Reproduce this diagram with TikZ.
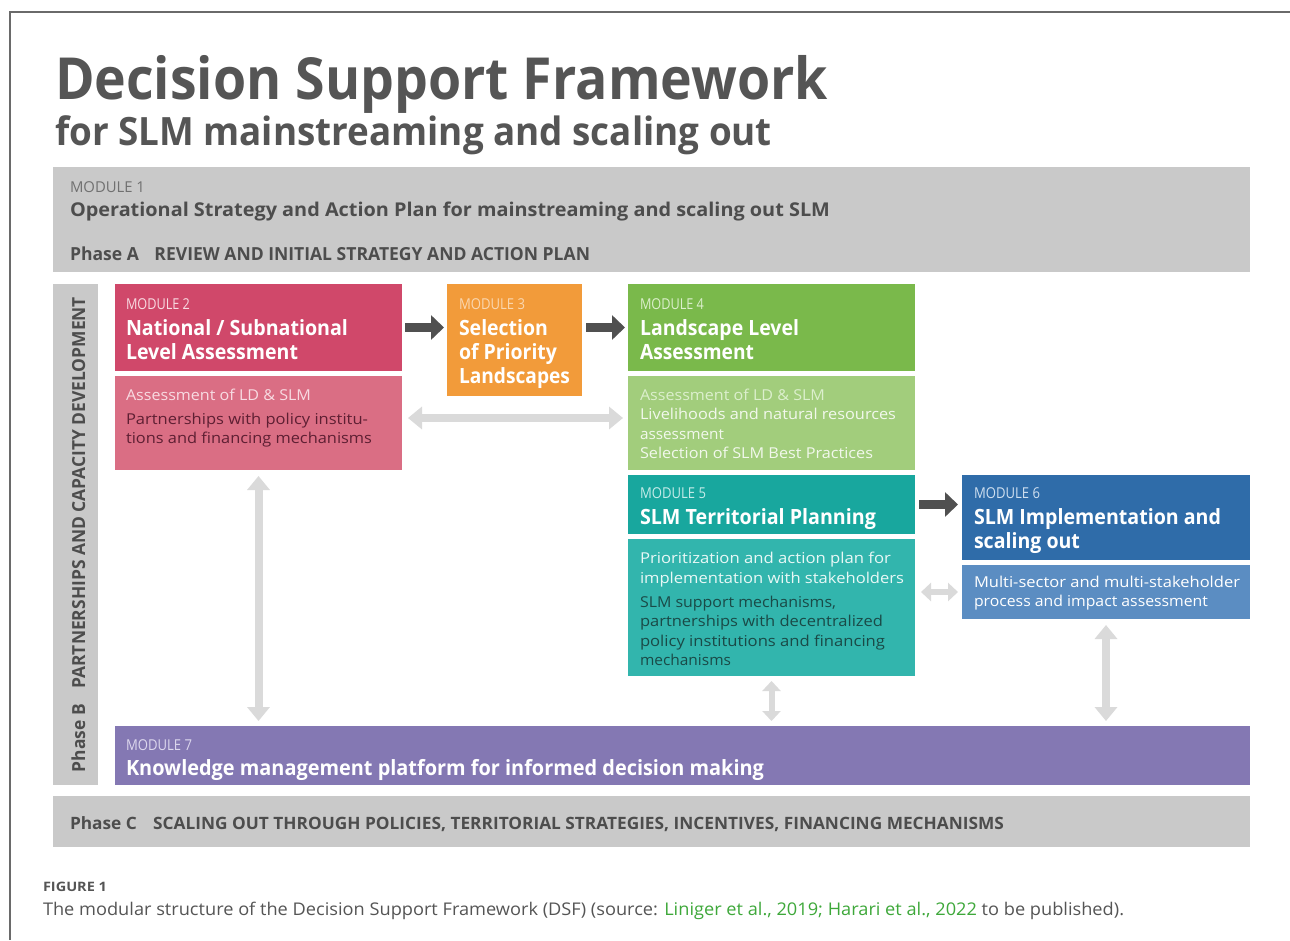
\documentclass[tikz,border=0pt]{standalone}
\usepackage{fontspec}
\setmainfont{Open Sans}
\usepackage{graphicx}
\usetikzlibrary{arrows.meta}
\definecolor{frame}{HTML}{6A6A6A}
\definecolor{gbox}{HTML}{C9C9C9}
\definecolor{gtext}{HTML}{4D4D4D}
\definecolor{glab}{HTML}{707070}
\definecolor{mTwoA}{HTML}{D0486A}
\definecolor{mTwoB}{HTML}{DA6E84}
\definecolor{mTwoL}{HTML}{F8DBE2}
\definecolor{mTwoD}{HTML}{5E1F33}
\definecolor{mThree}{HTML}{F29B3A}
\definecolor{mThreeL}{HTML}{FAD7B0}
\definecolor{mFourA}{HTML}{7AB94B}
\definecolor{mFourB}{HTML}{A2CD7C}
\definecolor{mFourL}{HTML}{DCEFCD}
\definecolor{mFourT}{HTML}{F2F8EC}
\definecolor{mFiveA}{HTML}{18A79E}
\definecolor{mFiveB}{HTML}{32B5AD}
\definecolor{mFiveL}{HTML}{C6ECE9}
\definecolor{mFiveT}{HTML}{E8F8F6}
\definecolor{mFiveD}{HTML}{1A4A47}
\definecolor{mSixA}{HTML}{2F6CA9}
\definecolor{mSixB}{HTML}{5B8DC2}
\definecolor{mSixL}{HTML}{D0E0F0}
\definecolor{mSeven}{HTML}{8478B3}
\definecolor{mSevenL}{HTML}{DDD8EE}
\definecolor{arrdark}{HTML}{505050}
\definecolor{arrlight}{HTML}{DADADA}
\definecolor{capgreen}{HTML}{3EA83A}
\definecolor{captext}{HTML}{555555}
\newcommand\fitto[2]{\resizebox{#1pt}{\height}{#2}}
\newcommand\txtline[6]{\node[tline,#5] (#1) at (#2,#3) {\fitto{#4}{#6}};}
\tikzset{
  box/.style={draw=none, inner sep=0pt, outer sep=0pt, anchor=north west},
  tline/.style={anchor=base west, inner sep=0pt, outer sep=0pt},
  modlabel/.style={font=\fontsize{15}{18}\selectfont},
  modtitle/.style={font=\bfseries\fontsize{21}{24}\selectfont, text=white},
  body/.style={font=\fontsize{15}{19}\selectfont},
  graytitle/.style={font=\bfseries\fontsize{18}{22}\selectfont, text=gtext},
  darkarrow/.style={draw=arrdark, line width=9pt, -{Triangle[length=13pt,width=24pt]}},
  lightarrow/.style={draw=arrlight, line width=8pt, {Triangle[length=14pt,width=22pt]}-{Triangle[length=14pt,width=22pt]}},
  smallarrow/.style={draw=arrlight, line width=6pt, {Triangle[length=10pt,width=18pt]}-{Triangle[length=10pt,width=18pt]}}
}
\begin{document}
\begin{tikzpicture}[x=1pt,y=-1pt]
\useasboundingbox (0,0) rectangle (1290,940);
\fill[white] (0,0) rectangle (1290,940);
% frame
\draw[frame, line width=1.3pt] (10,940) -- (10,12) -- (1290,12);
% titles
\txtline{title}{55}{99}{773}{font=\bfseries\fontsize{58}{60}\selectfont, text=captext}{Decision Support Framework}
\txtline{subtitle}{55}{145}{717}{font=\bfseries\fontsize{39}{42}\selectfont, text=captext}{for SLM mainstreaming and scaling out}
% boxes
\node[box, fill=gbox, minimum width=1197pt, minimum height=105pt] (m1) at (53,167) {};
\node[box, fill=gbox, minimum width=45pt, minimum height=501pt] (pb) at (53,284) {};
\node[box, fill=mTwoA, minimum width=287pt, minimum height=87pt] (m2a) at (115,284) {};
\node[box, fill=mTwoB, minimum width=287pt, minimum height=94pt] (m2b) at (115,376) {};
\node[box, fill=mThree, minimum width=135pt, minimum height=112pt] (m3) at (447,284) {};
\node[box, fill=mFourA, minimum width=287pt, minimum height=87pt] (m4a) at (628,284) {};
\node[box, fill=mFourB, minimum width=287pt, minimum height=94pt] (m4b) at (628,376) {};
\node[box, fill=mFiveA, minimum width=287pt, minimum height=59pt] (m5a) at (628,475) {};
\node[box, fill=mFiveB, minimum width=287pt, minimum height=137pt] (m5b) at (628,539) {};
\node[box, fill=mSixA, minimum width=288pt, minimum height=85pt] (m6a) at (962,475) {};
\node[box, fill=mSixB, minimum width=288pt, minimum height=54pt] (m6b) at (962,565) {};
\node[box, fill=mSeven, minimum width=1135pt, minimum height=59pt] (m7) at (115,726) {};
\node[box, fill=gbox, minimum width=1197pt, minimum height=51pt] (pc) at (53,796) {};
% module 1
\txtline{t1a}{70}{192}{75}{modlabel, text=glab}{MODULE 1}
\txtline{t1b}{70}{216}{760}{font=\bfseries\fontsize{19}{22}\selectfont, text=gtext}{Operational Strategy and Action Plan for mainstreaming and scaling out SLM}
\txtline{t1c}{70}{260}{520}{graytitle}{Phase A\hspace{16pt}REVIEW AND INITIAL STRATEGY AND ACTION PLAN}
% phase B
\txtline{tpb}{85}{772}{475}{graytitle, rotate=90}{Phase B\hspace{16pt}PARTNERSHIPS AND CAPACITY DEVELOPMENT}
% module 2
\txtline{t2a}{126}{309}{64}{modlabel, text=mTwoL}{MODULE 2}
\txtline{t2b}{126}{335}{222}{modtitle}{National / Subnational}
\txtline{t2c}{126}{359}{172}{modtitle}{Level Assessment}
\txtline{t2d}{126}{400}{185}{body, text=mTwoL}{Assessment of LD \& SLM}
\txtline{t2e}{126}{424}{242}{body, text=mTwoD}{Partnerships with policy institu-}
\txtline{t2f}{126}{443}{246}{body, text=mTwoD}{tions and financing mechanisms}
% module 3
\txtline{t3a}{459}{309}{66}{modlabel, text=mThreeL}{MODULE 3}
\txtline{t3b}{459}{335}{89}{modtitle}{Selection}
\txtline{t3c}{459}{359}{98}{modtitle}{of Priority}
\txtline{t3d}{459}{383}{111}{modtitle}{Landscapes}
% module 4
\txtline{t4a}{640}{309}{64}{modlabel, text=mFourL}{MODULE 4}
\txtline{t4b}{640}{335}{159}{modtitle}{Landscape Level}
\txtline{t4c}{640}{359}{114}{modtitle}{Assessment}
\txtline{t4d}{640}{400}{185}{body, text=mFourL}{Assessment of LD \& SLM}
\txtline{t4e}{640}{419}{256}{body, text=mFourT}{Livelihoods and natural resources}
\txtline{t4f}{640}{439}{84}{body, text=mFourT}{assessment}
\txtline{t4g}{640}{458}{233}{body, text=mFourT}{Selection of SLM Best Practices}
% module 5
\txtline{t5a}{640}{498}{66}{modlabel, text=mFiveL}{MODULE 5}
\txtline{t5b}{640}{524}{236}{modtitle}{SLM Territorial Planning}
\txtline{t5c}{640}{563}{251}{body, text=mFiveT}{Prioritization and action plan for}
\txtline{t5d}{640}{583}{264}{body, text=mFiveT}{implementation with stakeholders}
\txtline{t5e}{640}{607}{196}{body, text=mFiveD}{SLM support mechanisms,}
\txtline{t5f}{640}{626}{243}{body, text=mFiveD}{partnerships with decentralized}
\txtline{t5g}{640}{646}{245}{body, text=mFiveD}{policy institutions and financing}
\txtline{t5h}{640}{665}{91}{body, text=mFiveD}{mechanisms}
% module 6
\txtline{t6a}{974}{498}{66}{modlabel, text=mSixL}{MODULE 6}
\txtline{t6b}{974}{524}{247}{modtitle}{SLM Implementation and}
\txtline{t6c}{974}{548}{106}{modtitle}{scaling out}
\txtline{t6d}{974}{587}{266}{body, text=white}{Multi-sector and multi-stakeholder}
\txtline{t6e}{974}{606}{234}{body, text=white}{process and impact assessment}
% module 7
\txtline{t7a}{126}{750}{66}{modlabel, text=mSevenL}{MODULE 7}
\txtline{t7b}{126}{775}{638}{modtitle}{Knowledge management platform for informed decision making}
% phase C
\txtline{tpc}{70}{829}{934}{font=\bfseries\fontsize{17}{20}\selectfont, text=gtext}{Phase C\hspace{16pt}SCALING OUT THROUGH POLICIES, TERRITORIAL STRATEGIES, INCENTIVES, FINANCING MECHANISMS}
% caption
\txtline{fig}{43}{891}{64}{font=\bfseries\fontsize{13}{15}\selectfont, text=captext}{FIGURE 1}
\txtline{cap}{43}{915}{1081}{font=\fontsize{17.5}{20}\selectfont, text=captext}{The modular structure of the Decision Support Framework (DSF) (source: \textcolor{capgreen}{Liniger et al., 2019; Harari et al., 2022} to be published).}
% arrows
\draw[darkarrow, shorten <=3pt, shorten >=3pt] (m2a.east) -- (m2a.east -| m3.west);
\draw[darkarrow, shorten <=4pt, shorten >=3pt] (m3.east |- m4a.west) -- (m4a.west);
\draw[darkarrow, shorten <=4pt, shorten >=4pt] (m5a.east) -- (m5a.east -| m6a.west);
\draw[lightarrow, shorten <=6pt, shorten >=5pt] ([yshift=5pt]m2b.east) -- ([yshift=5pt]m2b.east -| m4b.west);
\draw[smallarrow, shorten <=6pt, shorten >=4pt] (m6b.west -| m5b.east) -- (m6b.west);
\draw[lightarrow, shorten <=6pt, shorten >=5pt] (m2b.south) -- (m2b.south |- m7.north);
\draw[smallarrow, shorten <=5pt, shorten >=5pt] (m5b.south) -- (m5b.south |- m7.north);
\draw[lightarrow, shorten <=6pt, shorten >=5pt] (m6b.south) -- (m6b.south |- m7.north);
\end{tikzpicture}
\end{document}
